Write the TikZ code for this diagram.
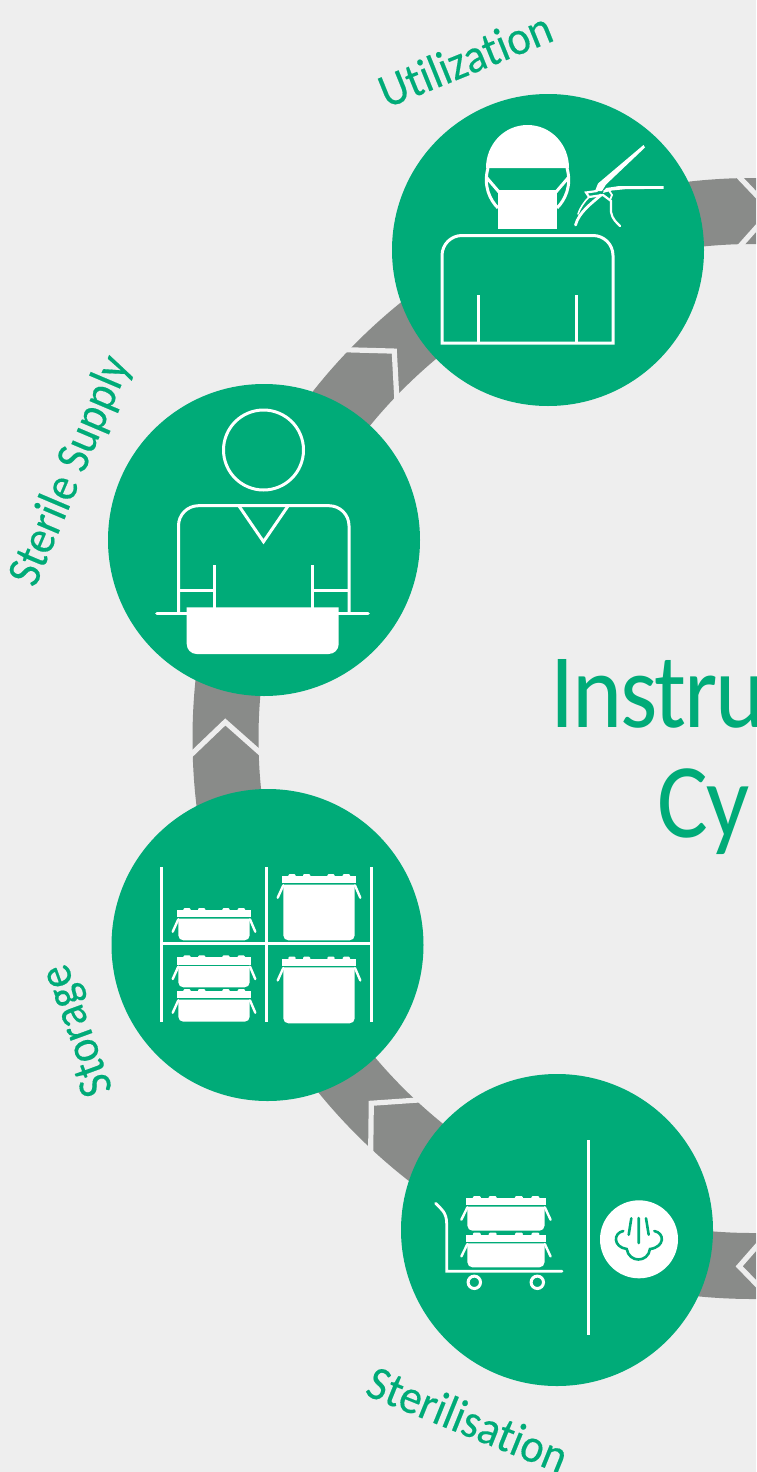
\documentclass[tikz,border=0pt]{standalone}
\usepackage{fontspec}
\setmainfont[Ligatures=CommonOff]{Carlito}
\newfontfamily\labf[Ligatures=CommonOff,FakeStretch=0.92,FakeBold=0.3]{Carlito}
\newfontfamily\bigf[Ligatures=CommonOff,FakeStretch=0.9,LetterSpace=-2]{Carlito}
\definecolor{bgc}{HTML}{EEEEEE}
\definecolor{grn}{HTML}{00AB78}
\definecolor{gry}{HTML}{898B89}
\tikzset{
  disc/.style={circle,fill=grn,draw=none,minimum size=156pt,inner sep=0pt},
  ln/.style={draw=white,line width=1.5pt},
  rln/.style={draw=white,line width=1.5pt,line cap=round},
  chev/.style={draw=bgc,line width=2.6pt,miter limit=10},
  lab/.style={text=grn,inner sep=0pt,font=\labf\fontsize{24}{28}\selectfont},
  big/.style={text=grn,inner sep=0pt,anchor=base west,font=\bigf\fontsize{53}{60}\selectfont}
}
% x, y of lid top-left, width scale, body bottom (relative to lid top)
\newcommand{\crate}[4]{%
  \begin{scope}[shift={(#1,#2)},xscale=#3]
    \fill[white] (0,0) rectangle (74,7.4);
    \foreach \b in {10,24.7,49,64.3}
      \fill[white,rounded corners=0.6pt] (\b-3.7,-2) rectangle (\b+3.7,1);
    \fill[white] (1.3,8.7) [rounded corners=2.5pt] -- (1.3,#4) -- (72.7,#4) [sharp corners] -- (72.7,8.7) -- cycle;
    \draw[white,line width=1.2pt,line cap=round] (1.3,9.3) -- (-4.3,21.7);
    \draw[white,line width=1.2pt,line cap=round] (73,9.3) -- (78.3,21.7);
  \end{scope}}
\begin{document}
\begin{tikzpicture}[x=0.5pt,y=-0.5pt]
\useasboundingbox (0,0) rectangle (756,1472);
\clip (0,0) rectangle (756,1472);
\fill[bgc] (0,0) rectangle (756,1472);
% ring
\fill[gry,even odd rule] (753,738.5) circle[radius=560.5] (753,738.5) circle[radius=494.5];
% chevrons
\foreach \t in {181.8,227.2,136.3,272,91.5}
  \draw[chev] ({753+566*cos(\t-3.8)},{738.5+566*sin(\t-3.8)})
     -- ({753+528*cos(\t)},{738.5+528*sin(\t)})
     -- ({753+490*cos(\t-3.8)},{738.5+490*sin(\t-3.8)});
% discs
\node[disc] (util) at (548,250) {};
\node[disc] (supply) at (264,540) {};
\node[disc] (store) at (267.5,945) {};
\node[disc] (steril) at (557,1230) {};
% labels
\node[lab,rotate=22] (lutil) at (465,59) {Utilization};
\node[lab,rotate=67] (lsupply) at (71,471) {Sterile Supply};
\node[lab,rotate=110] (lstore) at (79,1030) {Storage};
\node[lab,rotate=-22] (lsteril) at (468,1419) {Sterilisation};
\node[big] (title1) at (550,727) {Instru};
\node[big] (title2) at (657,837) {Cy};
% --- surgeon
\draw[ln,line join=miter] (442,343) [rounded corners=10pt] -- (442,235.5) -- (613,235.5) [sharp corners] -- (613,343) -- cycle;
\draw[ln] (478,295) -- (478,343) (576,295) -- (576,343);
\fill[white] (486,168) .. controls (486,144.5) and (504,125) .. (527.5,125) .. controls (551,125) and (569,144.5) .. (569,168) -- cycle;
\draw[ln] (498,208) .. controls (490,200) and (483,186) .. (488,168);
\draw[ln] (557,208) .. controls (565,200) and (572,186) .. (567,168);
\draw[ln] (487,178) -- (499,192) (568,178) -- (556,192);
\fill[white] (498,190) rectangle (557,229);
% forceps
\fill[white] (643.5,145) -- (645,147.5) -- (606,184.5) -- (602,191) -- (595,191) -- (598,183.5) -- cycle;
\fill[white] (663.5,186) -- (663.5,188.8) -- (625,189.2) -- (612,190.5) -- (603,193) -- (606,188) -- (618,186.2) -- cycle;
\draw[rln,line width=1.1pt] (597,191) -- (586,192.5) -- (589,197) -- (603,195) -- (611,201) -- (611,212) .. controls (612,219) and (617,223) .. (620,226);
\draw[rln,line width=1.4pt] (601,195) .. controls (592,203) and (579,212) .. (575.5,225);
\draw[rln,line width=0.8pt] (589,197) .. controls (584,202) and (580,208) .. (578,214);
\draw[rln,line width=0.9pt] (604,191) -- (608,189) -- (612,195) -- (610,200);
% --- sterile supply
\draw[ln] (263.5,450) circle[radius=40];
\draw[ln,rounded corners=10pt] (178.5,613) -- (178.5,505.7) -- (349,505.7) -- (349,613);
\draw[ln,line join=miter] (239,506) -- (263.5,541.7) -- (288,506);
\draw[ln] (214.5,565) -- (214.5,608) (312.5,565) -- (312.5,608);
\draw[ln] (178.5,590.7) -- (214.5,590.7) (312.5,590.7) -- (349,590.7);
\draw[white,line width=1.8pt,line cap=round] (157,613.3) -- (368,613.3);
\fill[white] (186.7,607.3) [rounded corners=5pt] -- (186.7,654) -- (338.7,654) [sharp corners] -- (338.7,607.3) -- cycle;
% --- storage
\draw[ln] (161.3,867) -- (161.3,1021.7) (266.3,867) -- (266.3,1021.7) (371.3,867) -- (371.3,1021.7);
\draw[ln] (161.3,943.3) -- (371.3,943.3);
\crate{177}{910}{1}{30.3}
\crate{177}{957.3}{1}{30}
\crate{177}{991}{1}{30.7}
\crate{282}{876}{1}{64.3}
\crate{282}{958.7}{1}{64.6}
% --- sterilisation
\crate{466}{1198}{1.08}{32.7}
\crate{466}{1234.7}{1.08}{32.6}
\draw[white,line width=1.4pt,line cap=round] (435.7,1203.3) .. controls (441,1209) and (446.7,1212) .. (446.7,1224) -- (446.7,1271.3) -- (562,1271.3);
\draw[white,line width=1.5pt] (474.3,1282.3) circle[radius=6.2] (537.3,1282.3) circle[radius=6.2];
\draw[ln] (588.3,1140) -- (588.3,1334.7);
\fill[white] (639,1239.3) circle[radius=39];
\draw[grn,line width=1.3pt,line cap=round] (631.3,1218.3) -- (628.7,1234.7) (638.7,1218) -- (638.7,1243) (646,1218.3) -- (648.7,1234.7);
\draw[grn,line width=1.3pt,line cap=round] (623.3,1231) .. controls (613,1233) and (613,1247) .. (626.7,1249) .. controls (629,1263) and (648,1263) .. (650,1249) .. controls (665,1247) and (665,1233) .. (654.3,1231);
\end{tikzpicture}
\end{document}
